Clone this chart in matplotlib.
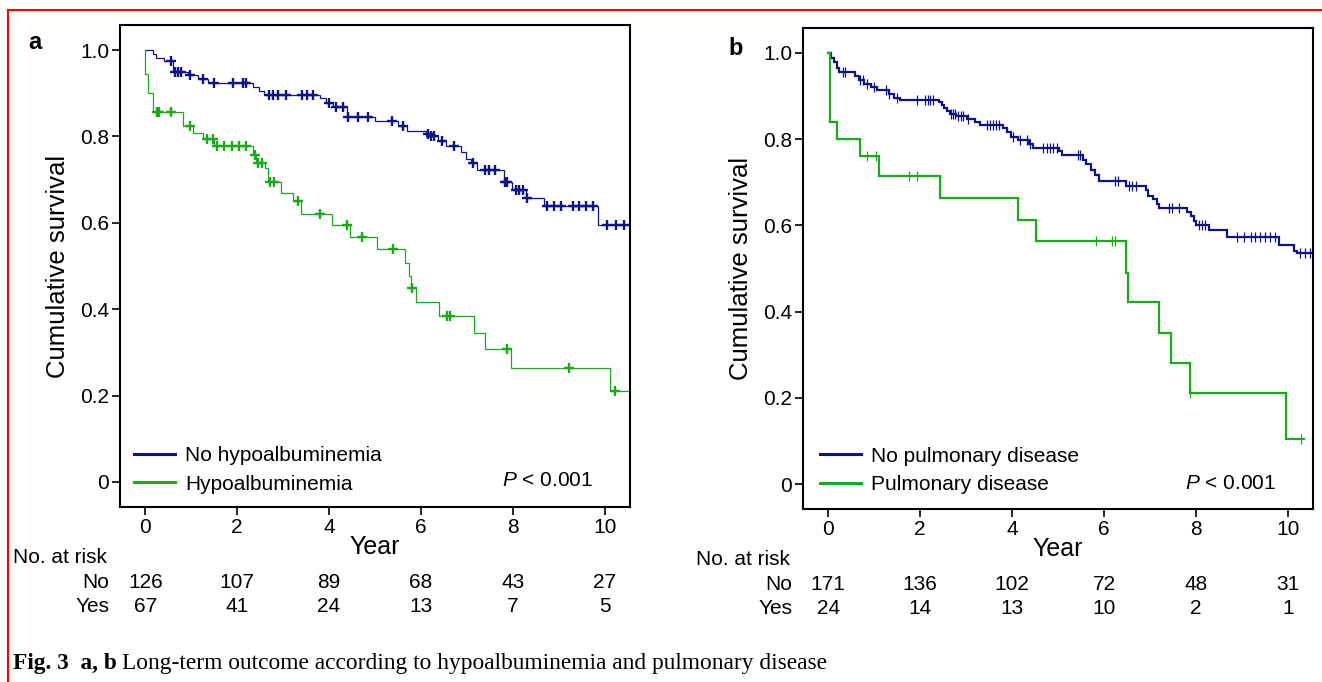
"""
Kaplan-Meier style survival curves (Fig. 3 a, b) with numbers at risk.
"""
import numpy as np
import matplotlib
matplotlib.use("Agg")
import matplotlib.pyplot as plt
from matplotlib.lines import Line2D

plt.rcParams['font.family'] = ['Liberation Sans', 'DejaVu Sans']
plt.rcParams['mathtext.fontset'] = 'custom'
plt.rcParams['mathtext.it'] = 'Liberation Sans:italic'
plt.rcParams['mathtext.rm'] = 'Liberation Sans'

BLUE = '#0d1488'
GREEN = '#1aaa1a'

# ---- panel a: hypoalbuminemia ----
A_NO_T = [0.17, 0.23, 0.40, 0.61, 0.92, 1.14, 1.37, 2.34, 2.47, 2.59, 3.80, 3.94,
          4.08, 4.38, 4.99, 5.50, 5.70, 6.11, 6.16, 6.37, 6.55, 6.87, 6.99, 7.10,
          7.23, 7.80, 7.99, 8.28, 8.67, 9.86]
A_NO_S = [0.990, 0.981, 0.975, 0.950, 0.942, 0.934, 0.924, 0.915, 0.906, 0.896,
          0.888, 0.877, 0.868, 0.846, 0.836, 0.825, 0.813, 0.806, 0.800, 0.790,
          0.778, 0.764, 0.748, 0.738, 0.722, 0.695, 0.676, 0.658, 0.640, 0.596]
A_NO_C = [0.55, 0.64, 0.71, 0.78, 0.97, 1.25, 1.49, 1.90, 2.13, 2.20, 2.70, 2.79,
          2.88, 3.07, 3.42, 3.53, 3.64, 3.99, 4.15, 4.30, 4.42, 4.62, 4.85, 5.38,
          5.62, 6.15, 6.22, 6.29, 6.46, 6.71, 7.14, 7.40, 7.49, 7.62, 7.82, 7.88,
          8.06, 8.13, 8.22, 8.31, 8.74, 8.90, 9.05, 9.30, 9.45, 9.60, 9.74, 10.06,
          10.24, 10.43]
A_NO_END = 10.55

A_YES_T = [0.0, 0.06, 0.16, 0.82, 1.04, 1.25, 1.50, 2.35, 2.41, 2.61, 2.67, 2.96,
           3.21, 3.38, 4.07, 4.46, 5.05, 5.65, 5.74, 5.78, 5.89, 6.39, 7.16, 7.40,
           7.97, 10.12]
A_YES_S = [0.945, 0.900, 0.856, 0.825, 0.808, 0.794, 0.777, 0.757, 0.739, 0.726,
           0.694, 0.670, 0.651, 0.620, 0.594, 0.568, 0.539, 0.508, 0.478, 0.448,
           0.416, 0.385, 0.346, 0.308, 0.264, 0.210]
A_YES_C = [0.25, 0.30, 0.55, 0.97, 1.35, 1.48, 1.56, 1.72, 1.88, 2.04, 2.20, 2.38,
           2.46, 2.53, 2.71, 2.80, 3.32, 3.80, 4.38, 4.72, 5.40, 5.81, 6.57, 6.64,
           7.88, 9.22, 10.23]
A_YES_END = 10.55

# ---- panel b: pulmonary disease ----
B_NO_T = [0.07, 0.12, 0.18, 0.24, 0.58, 0.67, 0.78, 0.92, 1.07, 1.33, 1.44, 1.56,
          2.40, 2.47, 2.52, 2.58, 2.65, 2.79, 3.01, 3.19, 3.30, 3.80, 3.89, 3.98,
          4.13, 4.36, 4.45, 5.03, 5.08, 5.55, 5.62, 5.72, 5.80, 5.90, 6.48, 6.91,
          6.95, 7.06, 7.16, 7.20, 7.81, 7.89, 7.96, 8.00, 8.28, 8.68, 9.80, 10.14,
          10.21]
B_NO_S = [0.988, 0.978, 0.966, 0.956, 0.947, 0.938, 0.929, 0.921, 0.914, 0.904,
          0.896, 0.892, 0.886, 0.879, 0.872, 0.865, 0.859, 0.853, 0.846, 0.839,
          0.833, 0.827, 0.817, 0.806, 0.798, 0.788, 0.780, 0.772, 0.763, 0.752,
          0.742, 0.728, 0.716, 0.704, 0.692, 0.681, 0.669, 0.661, 0.649, 0.640,
          0.632, 0.622, 0.611, 0.600, 0.589, 0.572, 0.555, 0.541, 0.537]
B_NO_C = [0.31, 0.36, 0.70, 0.75, 0.85, 0.99, 1.26, 1.33, 1.50, 1.93, 2.11, 2.16,
          2.22, 2.28, 2.67, 2.72, 2.76, 2.83, 2.88, 2.93, 3.05, 3.45, 3.52, 3.59,
          3.66, 3.72, 4.03, 4.18, 4.32, 4.40, 4.68, 4.76, 4.83, 4.90, 4.97, 5.44,
          5.47, 6.23, 6.30, 6.55, 6.62, 6.70, 7.42, 7.49, 7.63, 8.07, 8.14, 8.21,
          8.90, 9.04, 9.19, 9.29, 9.40, 9.51, 9.62, 9.73, 10.27, 10.38, 10.48]
B_NO_END = 10.55

B_YES_T = [0.03, 0.19, 0.69, 1.10, 2.43, 4.14, 4.52, 6.47, 6.53, 7.20, 7.45, 7.87, 9.96]
B_YES_S = [0.840, 0.800, 0.760, 0.715, 0.663, 0.612, 0.563, 0.490, 0.422, 0.351,
           0.281, 0.210, 0.105]
B_YES_C = [0.85, 1.03, 1.76, 1.94, 5.83, 6.17, 6.24, 7.87, 10.28]
B_YES_END = 10.35

YEARS = [0, 2, 4, 6, 8, 10]
A_RISK_NO = [126, 107, 89, 68, 43, 27]
A_RISK_YES = [67, 41, 24, 13, 7, 5]
B_RISK_NO = [171, 136, 102, 72, 48, 31]
B_RISK_YES = [24, 14, 13, 10, 2, 1]

W, H = 1322, 682


def km(ax, times, surv, cens, end, color, lw, marker, ms, mew):
    times = np.asarray(times)
    surv = np.asarray(surv)
    xs = np.r_[0.0, times, end]
    ys = np.r_[1.0, surv, surv[-1]]
    ax.step(xs, ys, where='post', color=color, lw=lw, solid_joinstyle='miter')
    cens = np.asarray(cens)
    idx = np.searchsorted(times, cens, side='right')
    cy = np.r_[1.0, surv][idx]
    ax.plot(cens, cy, ls='none', marker=marker, color=color, ms=ms, mew=mew)


def style_axes(ax, label, label_pos, legend_labels, leg_anchor, risk_no, risk_yes):
    ax.set_xlim(-0.55, 10.55)
    ax.set_ylim(-0.058, 1.058)
    ax.set_xticks(YEARS)
    ax.set_yticks([0, 0.2, 0.4, 0.6, 0.8, 1.0])
    ax.set_yticklabels(['0', '0.2', '0.4', '0.6', '0.8', '1.0'])
    ax.tick_params(direction='out', length=5.8, width=1.2, labelsize=15, pad=2)
    for sp in ax.spines.values():
        sp.set_linewidth(1.5)
    ax.set_ylabel('Cumulative survival', fontsize=18.5)
    ax.yaxis.set_label_coords(-0.098, 0.5)
    ax.set_xlabel('Year', fontsize=18)
    ax.xaxis.set_label_coords(0.5, -0.058)
    ax.text(label_pos[0], label_pos[1], label, transform=ax.transAxes, fontsize=17,
            fontweight='bold', ha='center', va='center')

    handles = [Line2D([], [], color=BLUE, lw=2.2), Line2D([], [], color=GREEN, lw=2.2)]
    ax.legend(handles, legend_labels, loc='lower left', bbox_to_anchor=leg_anchor,
              frameon=False, fontsize=15, handlelength=2.0, handletextpad=0.45,
              labelspacing=0.45, borderpad=0, borderaxespad=0)
    ax.text(0.927, 0.054, r'$\mathit{P}$ < 0.001', transform=ax.transAxes,
            fontsize=15, ha='right', va='center')

    tr = ax.get_xaxis_transform()
    ax.text(-2.87, -0.105, 'No. at risk', transform=tr, fontsize=15,
            ha='left', va='center', clip_on=False)
    ax.text(-0.78, -0.156, 'No', transform=tr, fontsize=15, ha='right', va='center')
    ax.text(-0.78, -0.207, 'Yes', transform=tr, fontsize=15, ha='right', va='center')
    for x, n, y in zip(YEARS, risk_no, risk_yes):
        ax.text(x, -0.156, str(n), transform=tr, fontsize=15, ha='center', va='center')
        ax.text(x, -0.207, str(y), transform=tr, fontsize=15, ha='center', va='center')


fig = plt.figure(figsize=(W / 100, H / 100), dpi=100)
ax_a = fig.add_axes([120 / W, 1 - 507 / H, 510 / W, 482 / H])
ax_b = fig.add_axes([803 / W, 1 - 509 / H, 510 / W, 481 / H])

km(ax_a, A_NO_T, A_NO_S, A_NO_C, A_NO_END, BLUE, 0.9, '+', 7.5, 1.7)
km(ax_a, A_YES_T, A_YES_S, A_YES_C, A_YES_END, GREEN, 0.9, '+', 7.5, 1.7)
km(ax_b, B_NO_T, B_NO_S, B_NO_C, B_NO_END, BLUE, 1.6, '|', 7.0, 0.9)
km(ax_b, B_YES_T, B_YES_S, B_YES_C, B_YES_END, GREEN, 1.6, '|', 7.0, 0.9)

style_axes(ax_a, 'a', (-0.167, 0.963), ['No hypoalbuminemia', 'Hypoalbuminemia'],
           (0.027, 0.028), A_RISK_NO, A_RISK_YES)
style_axes(ax_b, 'b', (-0.133, 0.958), ['No pulmonary disease', 'Pulmonary disease'],
           (0.033, 0.031), B_RISK_NO, B_RISK_YES)

# red frame (cropped at right and bottom)
fig.add_artist(Line2D([8 / W, 1.0], [1 - 10 / H, 1 - 10 / H], color='#ff0000', lw=1.5))
fig.add_artist(Line2D([8 / W, 8 / W], [0.0, 1 - 10 / H], color='#ff0000', lw=1.5))

# caption: bold part then regular part
cap_y = 1 - 664 / H
t1 = fig.text(13 / W, cap_y, 'Fig. 3  a, b', fontfamily=['Liberation Serif', 'DejaVu Serif'],
              fontweight='bold', fontsize=16.8, ha='left', va='center')
fig.canvas.draw()
bb = t1.get_window_extent()
fig.text((bb.x1 + 5) / W, cap_y,
         'Long-term outcome according to hypoalbuminemia and pulmonary disease',
         fontfamily=['Liberation Serif', 'DejaVu Serif'], fontsize=16.8,
         ha='left', va='center')

fig.savefig('out.png', dpi=100)
